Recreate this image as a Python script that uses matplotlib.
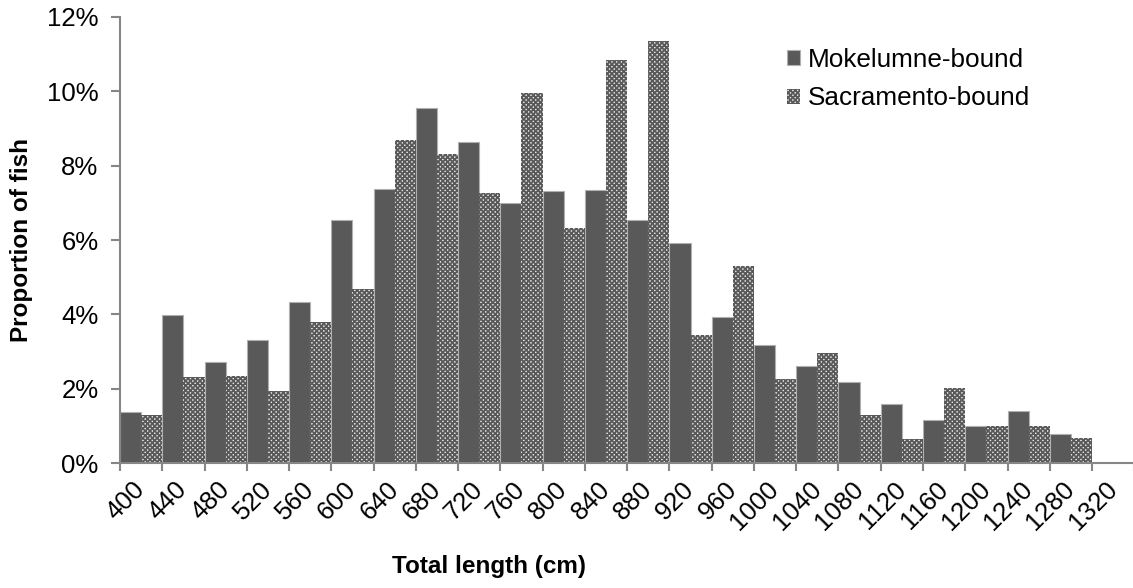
import matplotlib
matplotlib.use('Agg')
import matplotlib.pyplot as plt
import numpy as np
from matplotlib.ticker import PercentFormatter

plt.rcParams['font.family'] = ['Liberation Sans', 'DejaVu Sans']
plt.rcParams['hatch.linewidth'] = 1.3

length_bins = ['400', '440', '480', '520', '560', '600', '640', '680', '720', '760',
               '800', '840', '880', '920', '960', '1000', '1040', '1080', '1120',
               '1160', '1200', '1240', '1280', '1320']
mokelumne = [1.37, 3.98, 2.72, 3.30, 4.34, 6.55, 7.37, 9.55, 8.63, 6.99, 7.31, 7.34,
             6.53, 5.92, 3.92, 3.17, 2.62, 2.19, 1.59, 1.16, 0.99, 1.41, 0.79]
sacramento = [1.29, 2.32, 2.35, 1.94, 3.79, 4.68, 8.68, 8.31, 7.25, 9.94, 6.31, 10.84,
              11.35, 3.46, 5.29, 2.27, 2.96, 1.30, 0.64, 2.02, 1.00, 1.00, 0.68]
y_ticks = [0, 2, 4, 6, 8, 10, 12]

W, H = 1133, 588
fig = plt.figure(figsize=(W / 100, H / 100), dpi=100)
ax = fig.add_axes([120 / W, 124.7 / H, 1014.3 / W, 446.6 / H])

dark = '#595959'
x = np.arange(len(mokelumne))
ax.bar(x - 0.25, mokelumne, width=0.5, color=dark, edgecolor='#b0b0b0',
       linewidth=0.8, label='Mokelumne-bound', zorder=2)
ax.bar(x + 0.25, sacramento, width=0.5, facecolor='#e6e6e6', edgecolor=dark,
       hatch='xxxxxxx', linewidth=0, label='Sacramento-bound', zorder=2)

ax.set_xlim(-0.5, len(length_bins) - 0.5)
ax.set_ylim(0, 12)
ax.set_yticks(y_ticks)
ax.yaxis.set_major_formatter(PercentFormatter(decimals=0))

ax.set_xticks(np.arange(len(length_bins)))
ax.set_xticklabels(length_bins, rotation=45, ha='right', va='center',
                   rotation_mode='anchor')
ax.set_xticks(np.arange(len(length_bins) + 1) - 0.5, minor=True)
ax.tick_params(axis='x', which='major', length=0, pad=16, labelsize=18.5)
ax.tick_params(axis='x', which='minor', length=5.5, width=1.5, color='#868686')
ax.tick_params(axis='y', length=6.5, width=1.5, color='#868686', pad=9, labelsize=18.5)

for s in ['top', 'right']:
    ax.spines[s].set_visible(False)
for s in ['left', 'bottom']:
    ax.spines[s].set_color('#868686')
    ax.spines[s].set_linewidth(1.5)

fig.text(22 / W, 1 - 240 / H, 'Proportion of fish', rotation=90, ha='center',
         va='center', fontsize=17.5, fontweight='bold')
fig.text(489 / W, 1 - 567 / H, 'Total length (cm)', ha='center', va='center',
         fontsize=17.5, fontweight='bold')

leg = ax.legend(loc='upper left', bbox_to_anchor=(787 / W, 1 - 48 / H),
                bbox_transform=fig.transFigure, frameon=False, fontsize=18.8,
                borderpad=0, handlelength=0.5, handleheight=0.5,
                handletextpad=0.3, labelspacing=0.55, borderaxespad=0)

fig.savefig('out.png', dpi=100)
